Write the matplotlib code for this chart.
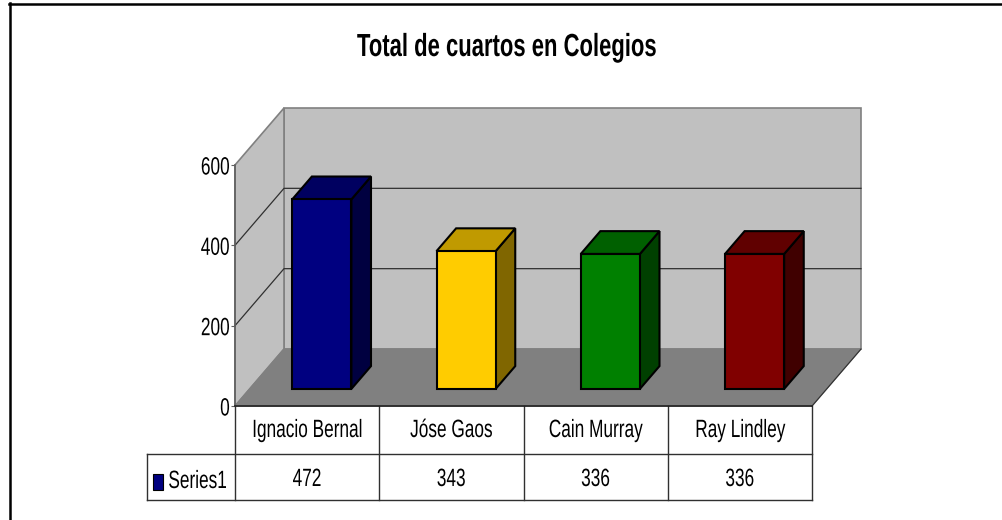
import matplotlib
matplotlib.use('Agg')
import matplotlib.pyplot as plt
from matplotlib.patches import Polygon
from matplotlib.patheffects import AbstractPathEffect
from matplotlib.transforms import Affine2D

categories = ['Ignacio Bernal', 'Jóse Gaos', 'Cain Murray', 'Ray Lindley']
values = [472, 343, 336, 336]
y_ticks = [0, 200, 400, 600]
series_name = 'Series1'
title = 'Total de cuartos en Colegios'
face_colors = ['#000080', '#FFCC00', '#008000', '#800000']
top_colors = ['#000060', '#C09A00', '#006000', '#600000']
side_colors = ['#000040', '#806600', '#004000', '#400000']

W, H = 1002, 520
LEFT, RIGHT, BOTTOM, TOP = 235, 812, 406, 165
ux = (RIGHT - LEFT) / 4.0       # pixeles por categoria
uy = (BOTTOM - TOP) / 600.0     # pixeles por unidad
DX = 49 / ux
DY = 57 / uy
NARROW = 0.69

plt.rcParams['font.family'] = ['Liberation Sans', 'DejaVu Sans']


class Narrow(AbstractPathEffect):
    # angosta el texto (no hay Arial Narrow instalada)
    def __init__(self, anchor='center'):
        super().__init__()
        self.anchor = anchor

    def draw_path(self, renderer, gc, tpath, affine, rgbFace=None):
        ext = tpath.get_extents()
        if self.anchor == 'center':
            c = (ext.x0 + ext.x1) / 2
        elif self.anchor == 'right':
            c = ext.x1
        else:
            c = ext.x0
        new = Affine2D().translate(-c, 0).scale(NARROW, 1).translate(c, 0) + affine
        renderer.draw_path(gc, tpath, new, rgbFace)


fig = plt.figure(figsize=(W / 100, H / 100), dpi=100)
ax = fig.add_axes([LEFT / W, 1 - BOTTOM / H, (RIGHT - LEFT) / W, (BOTTOM - TOP) / H])
ax.set_xlim(0, 4)
ax.set_ylim(0, 600)
ax.patch.set_visible(False)
for s in ['top', 'right', 'bottom']:
    ax.spines[s].set_visible(False)
ax.spines['left'].set_color('#606060')
ax.spines['left'].set_linewidth(1.2)
ax.set_xticks([])
ax.set_yticks(y_ticks)
ax.tick_params(axis='y', labelsize=18, length=3, color='#606060', pad=0.5)
for lab in ax.get_yticklabels():
    lab.set_path_effects([Narrow('right')])
    lab.set_y(lab.get_position()[1])


def pt(x, y, d):
    # proyeccion oblicua: d es la profundidad (0 frente, 1 fondo)
    return (x + DX * d, y + DY * d)


def poly(pts, color, edge, lw=1.0, z=1):
    ax.add_patch(Polygon(pts, closed=True, facecolor=color, edgecolor=edge,
                         linewidth=lw, clip_on=False, zorder=z, joinstyle='miter'))


# paredes y piso
poly([pt(0, 0, 1), pt(4, 0, 1), pt(4, 600, 1), pt(0, 600, 1)], '#C0C0C0', '#808080', 1.2, 1)
poly([pt(0, 0, 0), pt(0, 0, 1), pt(0, 600, 1), pt(0, 600, 0)], '#C0C0C0', '#808080', 1.2, 1)
poly([pt(0, 0, 0), pt(4, 0, 0), pt(4, 0, 1), pt(0, 0, 1)], '#808080', '#808080', 1.0, 2)
ax.plot(*zip(pt(4, 0, 0), pt(4, 0, 1)), color='#303030', lw=0.8, clip_on=False, zorder=2)
ax.plot(*zip(pt(0, 0, 0), pt(4, 0, 0)), color='#202020', lw=1.2, clip_on=False, zorder=3)

# lineas de la cuadricula
for t in y_ticks[1:-1]:
    ax.plot(*zip(pt(0, t, 0), pt(0, t, 1), pt(4, t, 1)), color='#303030', lw=0.9,
            clip_on=False, zorder=2)

# barras
bar_w = 0.41
d0, d1 = 0.30, 0.70
for i, v in enumerate(values):
    x0 = i + 0.5 - bar_w / 2
    x1 = i + 0.5 + bar_w / 2
    poly([pt(x1, 0, d0), pt(x1, 0, d1), pt(x1, v, d1), pt(x1, v, d0)], side_colors[i], 'black', 1.5, 4)
    poly([pt(x0, v, d0), pt(x1, v, d0), pt(x1, v, d1), pt(x0, v, d1)], top_colors[i], 'black', 1.5, 4)
    poly([pt(x0, 0, d0), pt(x1, 0, d0), pt(x1, v, d0), pt(x0, v, d0)], face_colors[i], 'black', 1.5, 5)

# tabla de datos
row1 = -48 / uy
row2 = -94 / uy
key_left = -88 / ux
tc = '#303030'
ax.plot([key_left, 4], [row1, row1], color=tc, lw=1, clip_on=False)
ax.plot([key_left, 4], [row2, row2], color=tc, lw=1, clip_on=False)
ax.plot([key_left, key_left], [row1, row2], color=tc, lw=1, clip_on=False)
for k in range(5):
    ax.plot([k, k], [0, row2], color=tc, lw=1, clip_on=False)
for k in range(4):
    ax.text(k + 0.5, row1 / 2, categories[k], ha='center', va='center', fontsize=18,
            path_effects=[Narrow('center')])
    ax.text(k + 0.5, (row1 + row2) / 2 - 2 / uy, str(values[k]), ha='center', va='center', fontsize=18,
            path_effects=[Narrow('center')])

# clave de la serie
ky = (row1 + row2) / 2
poly([(-82 / ux, ky - 13 / uy), (-72 / ux, ky - 13 / uy), (-72 / ux, ky + 3 / uy), (-82 / ux, ky + 3 / uy)],
     face_colors[0], 'black', 0.8, 3)
ax.text(-67 / ux, ky - 4 / uy, series_name, ha='left', va='center', fontsize=18,
        path_effects=[Narrow('left')])

fig.text(507 / W, 1 - 48 / H, title, ha='center', va='center', fontsize=23, fontweight='bold',
         path_effects=[Narrow('center')])

# marco exterior: solo se ve arriba y a la izquierda
fig.add_artist(plt.Line2D([10 / W, 10 / W], [0, 1 - 3 / H], color='black', lw=1.8))
fig.add_artist(plt.Line2D([9 / W, 1], [1 - 3.5 / H, 1 - 3.5 / H], color='black', lw=1.8))

fig.savefig('out.png', dpi=100)
